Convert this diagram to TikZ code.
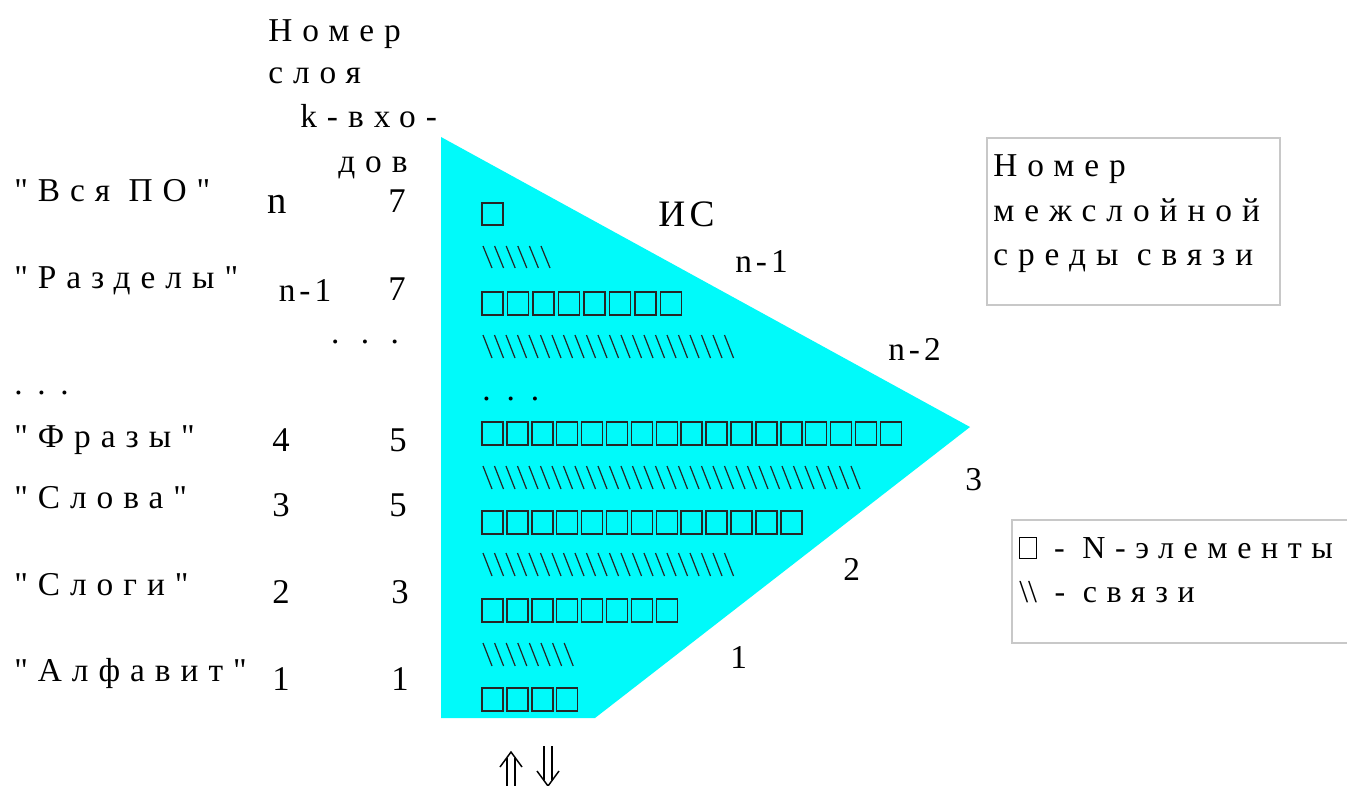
\documentclass[tikz,border=0pt]{standalone}
\usepackage{fontspec}
\setmainfont{Liberation Serif}
\newfontfamily\fsp[LetterSpace=30]{Liberation Serif}
\newfontfamily\fsm[LetterSpace=12]{Liberation Serif}
\definecolor{tri}{RGB}{0,250,250}
\definecolor{framec}{RGB}{200,200,200}
\newcommand\sqg{{\setlength\fboxsep{0pt}\setlength\fboxrule{0.7pt}\fbox{\rule{0pt}{0.62em}\hspace{0.48em}}}}
\newcommand\threedots[1]{.\hspace{#1}.\hspace{#1}.}
\begin{document}
\begin{tikzpicture}[x=0.75pt,y=-0.75pt,
  txt/.style={anchor=base west,inner sep=0pt,font=\fontsize{25}{30}\fsp},
  num/.style={anchor=base,inner sep=0pt,font=\fontsize{26}{31}\selectfont},
  big/.style={anchor=base west,inner sep=0pt,font=\fontsize{25}{30}\fsm},
  legtxt/.style={anchor=base west,inner sep=0pt,font=\fontsize{24}{29}\fsp},
  nel/.style={draw=black!85,line width=1.1pt},
  lnk/.style={draw=black!85,line width=0.9pt},
  arr/.style={draw=black,line width=1.1pt},
  framebox/.style={draw=framec,line width=0.8pt}]
\useasboundingbox (0,0) rectangle (1347,786);
\fill[white] (0,0) rectangle (1347,786);
% triangle
\fill[tri] (441,137) -- (970,427) -- (595,718) -- (441,718) -- cycle;
% header
\node[txt] (h1) at (268,41) {Номер};
\node[txt] (h2) at (268,83) {слоя};
\node[txt] (h3) at (300,127) {k-вхо-};
\node[txt] (h4) at (338,172) {дов};
% left labels
\node[txt] (l1) at (14,201) {"Вся ПО"};
\node[txt] (l2) at (14,288) {"Разделы"};
\node[txt] (l3) at (14,394) {\threedots{11pt}};
\node[txt] (l4) at (14,447) {"Фразы"};
\node[txt] (l5) at (14,508) {"Слова"};
\node[txt] (l6) at (14,595) {"Слоги"};
\node[txt] (l7) at (14,681) {"Алфавит"};
% number columns
\node[num,font=\fontsize{29}{33}\selectfont] (a1) at (277,213) {n};
\node[num] (b1) at (397,212) {7};
\node[big,anchor=base] (a2) at (305,301) {n-1};
\node[num] (b2) at (397,300) {7};
\node[txt,anchor=base] (dd) at (365,343) {\threedots{16pt}};
\node[num] (a4) at (281,451) {4};
\node[num] (b4) at (398,451) {5};
\node[num] (a5) at (281,516) {3};
\node[num] (b5) at (398,516) {5};
\node[num] (a6) at (281,603) {2};
\node[num] (b6) at (400,603) {3};
\node[num] (a7) at (281,690) {1};
\node[num] (b7) at (400,690) {1};
% N-element rows
\foreach \i in {0} \draw[nel] ({482+25*\i},203) rectangle ++(21,22);
\foreach \i in {0,...,7} \draw[nel] ({482+25.5*\i},292) rectangle ++(21,23);
\foreach \i in {0,...,16} \draw[nel] ({482+24.9*\i},422) rectangle ++(21,23);
\foreach \i in {0,...,12} \draw[nel] ({482+24.9*\i},511) rectangle ++(21,23);
\foreach \i in {0,...,7} \draw[nel] ({482+24.9*\i},599) rectangle ++(21,23);
\foreach \i in {0,...,3} \draw[nel] ({482+24.9*\i},688) rectangle ++(21,23);
% link rows
\foreach \i in {0,...,5} \draw[lnk] ({483+11.6*\i},246) -- ++(9,22);
\foreach \i in {0,...,21} \draw[lnk] ({483+11.5*\i},335) -- ++(9,23);
\foreach \i in {0,...,32} \draw[lnk] ({483+11.5*\i},466) -- ++(9,23);
\foreach \i in {0,...,21} \draw[lnk] ({483+11.5*\i},553) -- ++(9,23);
\foreach \i in {0,...,7} \draw[lnk] ({483+11.6*\i},643) -- ++(9,23);
\node[txt] (td) at (482,400) {\threedots{12pt}};
% triangle labels
\node[big,font=\fontsize{28}{33}\fsm] (ic) at (658,226) {ИС};
\node[big] (t1) at (735,272) {n-1};
\node[big] (t2) at (888,360) {n-2};
\node[big] (t3) at (965,490) {3};
\node[big] (t4) at (843,580) {2};
\node[big] (t5) at (730,668) {1};
% legend 1
\draw[framebox] (987,138) rectangle (1280,305);
\node[txt] (m1) at (993,176) {Номер};
\node[txt] (m2) at (993,221) {межслойной};
\node[txt] (m3) at (993,265) {среды связи};
% legend 2
\draw[framebox] (1012,520) rectangle (1360,643);
\node[legtxt] (g1) at (1019,558) {\sqg{} - N-элементы};
\node[legtxt] (g2) at (1019,602) {{\fontspec{Liberation Serif}\textbackslash\textbackslash} - связи};
% arrows up/down
\coordinate (upA) at (511,752);
\draw[arr] (upA) ++(-11,15) -- (upA) -- ++(11,15);
\draw[arr] (upA) ++(-4,6) -- ++(0,45);
\draw[arr] (upA) ++(4,6) -- ++(0,45);
\coordinate (dnA) at (548,786);
\draw[arr] (dnA) ++(-11,-15) -- (dnA) -- ++(11,-15);
\draw[arr] (dnA) ++(-4,-6) -- ++(0,-34);
\draw[arr] (dnA) ++(4,-6) -- ++(0,-34);
\end{tikzpicture}
\end{document}
